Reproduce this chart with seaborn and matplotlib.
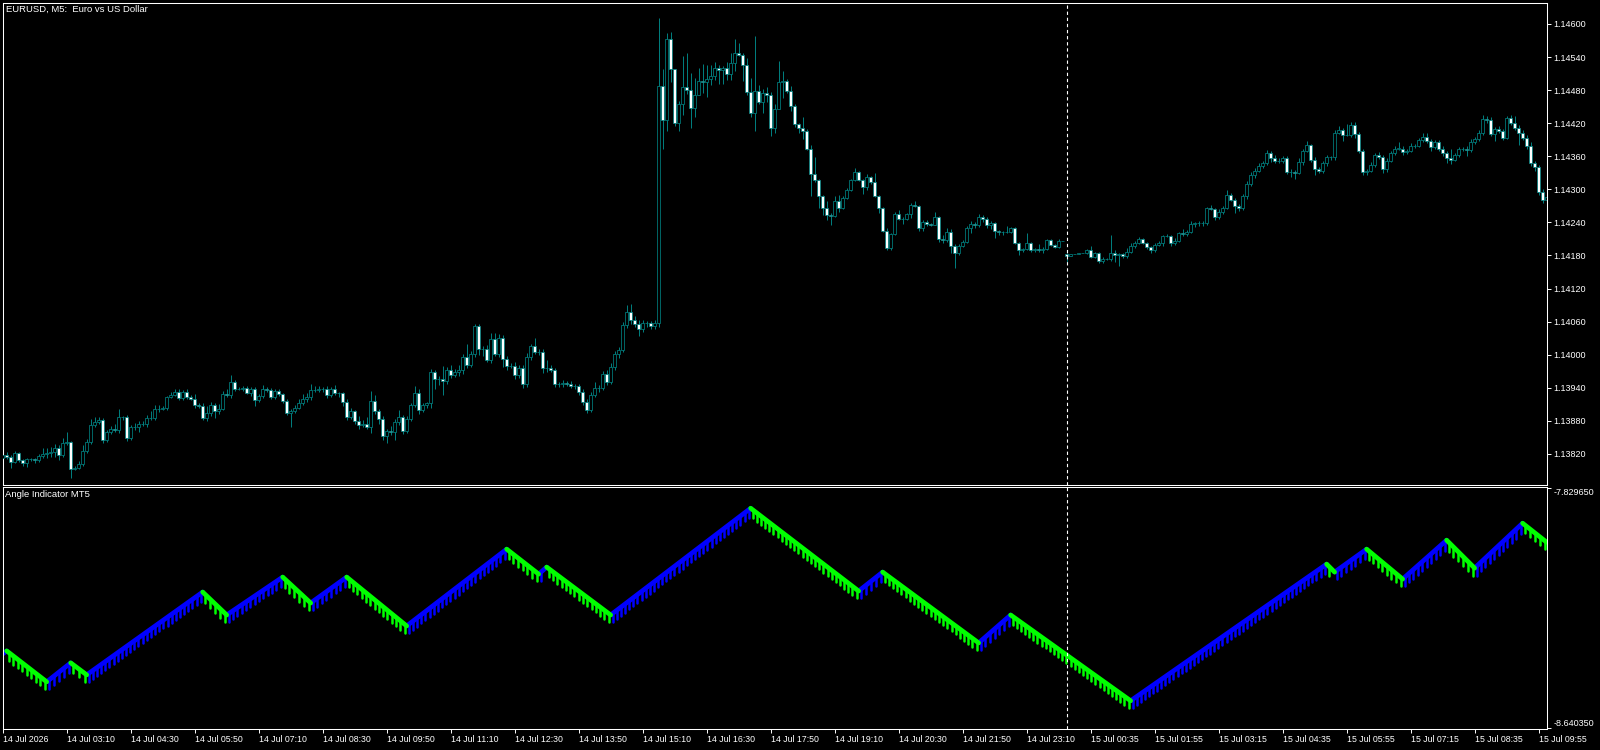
import numpy as np
import pandas as pd
import matplotlib
matplotlib.use("Agg")
import matplotlib.pyplot as plt
import matplotlib.patheffects as pe
import seaborn as sns

W, H, DPI = 1600, 750, 100

# EURUSD M5 closes, one per bar (bar 0 = 14 Jul 01:50)
first_open = 1.13812
closes = [
    1.13818, 1.13815, 1.13806, 1.13821, 1.13809, 1.13803, 1.13810, 1.13810, 1.13809, 1.13816,
    1.13819, 1.13821, 1.13824, 1.13830, 1.13818, 1.13840, 1.13842, 1.13792, 1.13795, 1.13801,
    1.13826, 1.13842, 1.13872, 1.13877, 1.13881, 1.13845, 1.13860, 1.13865, 1.13863, 1.13886,
    1.13886, 1.13849, 1.13868, 1.13868, 1.13874, 1.13874, 1.13885, 1.13885, 1.13901, 1.13901,
    1.13903, 1.13923, 1.13927, 1.13932, 1.13921, 1.13932, 1.13923, 1.13920, 1.13909, 1.13907,
    1.13885, 1.13895, 1.13908, 1.13897, 1.13901, 1.13928, 1.13927, 1.13950, 1.13937, 1.13937,
    1.13940, 1.13931, 1.13938, 1.13918, 1.13925, 1.13937, 1.13936, 1.13923, 1.13934, 1.13928,
    1.13916, 1.13894, 1.13898, 1.13904, 1.13912, 1.13919, 1.13924, 1.13936, 1.13936, 1.13937,
    1.13937, 1.13927, 1.13937, 1.13930, 1.13930, 1.13915, 1.13887, 1.13897, 1.13880, 1.13872,
    1.13875, 1.13869, 1.13916, 1.13898, 1.13883, 1.13852, 1.13862, 1.13860, 1.13877, 1.13886,
    1.13862, 1.13883, 1.13909, 1.13931, 1.13900, 1.13909, 1.13912, 1.13968, 1.13956, 1.13955,
    1.13953, 1.13973, 1.13963, 1.13968, 1.13973, 1.13995, 1.13981, 1.14002, 1.14052, 1.14010,
    1.14010, 1.13990, 1.14028, 1.14001, 1.14030, 1.13993, 1.13979, 1.13979, 1.13963, 1.13975,
    1.13947, 1.13995, 1.14016, 1.14005, 1.14005, 1.13975, 1.13975, 1.13972, 1.13947, 1.13947,
    1.13948, 1.13947, 1.13943, 1.13943, 1.13933, 1.13915, 1.13900, 1.13927, 1.13939, 1.13939,
    1.13965, 1.13951, 1.13978, 1.14002, 1.14008, 1.14054, 1.14078, 1.14062, 1.14056, 1.14046,
    1.14057, 1.14057, 1.14052, 1.14057, 1.14487, 1.14426, 1.14572, 1.14518, 1.14420, 1.14455,
    1.14485, 1.14481, 1.14447, 1.14471, 1.14497, 1.14495, 1.14500, 1.14506, 1.14521, 1.14516,
    1.14521, 1.14509, 1.14529, 1.14548, 1.14544, 1.14526, 1.14477, 1.14438, 1.14479, 1.14459,
    1.14474, 1.14471, 1.14412, 1.14445, 1.14495, 1.14497, 1.14479, 1.14451, 1.14418, 1.14412,
    1.14406, 1.14373, 1.14328, 1.14316, 1.14287, 1.14266, 1.14253, 1.14252, 1.14278, 1.14267,
    1.14284, 1.14299, 1.14317, 1.14332, 1.14317, 1.14304, 1.14323, 1.14314, 1.14288, 1.14266,
    1.14225, 1.14193, 1.14219, 1.14255, 1.14246, 1.14247, 1.14255, 1.14272, 1.14270, 1.14229,
    1.14241, 1.14237, 1.14236, 1.14249, 1.14209, 1.14208, 1.14223, 1.14197, 1.14185, 1.14197,
    1.14205, 1.14229, 1.14237, 1.14235, 1.14249, 1.14246, 1.14235, 1.14239, 1.14224, 1.14223,
    1.14223, 1.14223, 1.14229, 1.14202, 1.14189, 1.14192, 1.14202, 1.14189, 1.14192, 1.14190,
    1.14191, 1.14208, 1.14199, 1.14195, 1.14207, 1.14206, 1.14179, 1.14182, 1.14183, 1.14184,
    1.14185, 1.14189, 1.14178, 1.14185, 1.14170, 1.14174, 1.14174, 1.14185, 1.14181, 1.14182,
    1.14179, 1.14187, 1.14197, 1.14203, 1.14209, 1.14203, 1.14195, 1.14190, 1.14199, 1.14202,
    1.14215, 1.14215, 1.14202, 1.14207, 1.14220, 1.14219, 1.14223, 1.14237, 1.14238, 1.14239,
    1.14239, 1.14266, 1.14265, 1.14249, 1.14259, 1.14266, 1.14290, 1.14281, 1.14270, 1.14266,
    1.14287, 1.14310, 1.14326, 1.14334, 1.14342, 1.14348, 1.14366, 1.14356, 1.14352, 1.14352,
    1.14356, 1.14332, 1.14332, 1.14330, 1.14350, 1.14370, 1.14380, 1.14354, 1.14336, 1.14334,
    1.14347, 1.14358, 1.14358, 1.14403, 1.14408, 1.14399, 1.14399, 1.14417, 1.14400, 1.14370,
    1.14332, 1.14334, 1.14344, 1.14362, 1.14359, 1.14336, 1.14352, 1.14366, 1.14374, 1.14374,
    1.14368, 1.14370, 1.14379, 1.14379, 1.14389, 1.14395, 1.14388, 1.14376, 1.14385, 1.14374,
    1.14365, 1.14356, 1.14354, 1.14362, 1.14373, 1.14374, 1.14371, 1.14386, 1.14391, 1.14403,
    1.14427, 1.14426, 1.14400, 1.14409, 1.14406, 1.14394, 1.14429, 1.14421, 1.14412, 1.14403,
    1.14394, 1.14379, 1.14347, 1.14341, 1.14295, 1.14281, 1.14286,
]
# bars that did not open at the previous close
open_gaps = {266: 1.14182}

# wick lengths above / below the body, in points (0.00001)
wick_up = [
    5, 6, 3, 4, 2, 2, 3, 3, 2, 3,
    12, 10, 8, 8, 6, 8, 18, 2, 3, 6,
    10, 5, 12, 10, 6, 4, 4, 6, 10, 16,
    3, 4, 4, 8, 6, 5, 6, 12, 8, 8,
    4, 2, 6, 6, 6, 3, 5, 4, 8, 3,
    5, 12, 6, 4, 10, 6, 10, 13, 4, 5,
    3, 4, 3, 3, 4, 8, 4, 4, 3, 3,
    3, 3, 4, 5, 8, 10, 6, 10, 8, 6,
    5, 6, 4, 8, 3, 3, 4, 6, 3, 8,
    6, 12, 18, 10, 4, 6, 4, 8, 6, 14,
    4, 6, 4, 12, 6, 4, 3, 6, 4, 6,
    24, 4, 8, 6, 8, 6, 24, 4, 4, 4,
    6, 8, 12, 12, 8, 6, 4, 6, 8, 6,
    6, 8, 3, 14, 6, 6, 15, 6, 4, 4,
    6, 4, 6, 4, 4, 4, 4, 6, 12, 6,
    6, 8, 6, 4, 6, 6, 12, 14, 8, 6,
    6, 4, 4, 6, 124, 31, 12, 14, 0, 6,
    56, 62, 30, 31, 23, 30, 25, 20, 10, 5,
    3, 10, 18, 25, 18, 3, 12, 25, 100, 10,
    8, 12, 5, 10, 37, 18, 4, 8, 3, 3,
    20, 4, 8, 30, 3, 3, 12, 4, 9, 12,
    3, 3, 2, 6, 2, 2, 5, 2, 15, 2,
    2, 4, 2, 4, 7, 3, 2, 3, 6, 1,
    3, 4, 2, 10, 2, 8, 6, 5, 3, 4,
    3, 5, 5, 4, 6, 5, 3, 3, 2, 2,
    2, 10, 3, 2, 2, 2, 18, 2, 2, 8,
    5, 2, 2, 2, 2, 0, 2, 0, 0, 0,
    0, 2, 8, 2, 2, 3, 2, 32, 4, 2,
    3, 6, 5, 4, 4, 3, 2, 2, 3, 5,
    2, 4, 2, 4, 2, 8, 3, 5, 3, 4,
    3, 2, 5, 2, 5, 3, 9, 4, 3, 4,
    4, 5, 6, 4, 5, 4, 6, 4, 6, 4,
    5, 4, 4, 3, 6, 4, 8, 3, 4, 4,
    5, 4, 3, 5, 6, 4, 19, 5, 6, 4,
    4, 3, 5, 4, 6, 4, 5, 4, 4, 12,
    4, 3, 5, 4, 4, 8, 8, 4, 5, 4,
    4, 4, 17, 4, 4, 3, 4, 5, 4, 5,
    8, 6, 6, 4, 6, 4, 4, 6, 12, 4,
    5, 4, 6, 5, 4, 5, 6,
]
wick_dn = [
    4, 4, 12, 3, 4, 5, 6, 3, 5, 3,
    3, 6, 6, 10, 10, 4, 4, 15, 2, 3,
    3, 4, 5, 4, 3, 6, 4, 4, 3, 6,
    4, 6, 4, 4, 8, 4, 5, 3, 4, 5,
    2, 4, 2, 2, 3, 4, 4, 3, 6, 3,
    4, 5, 6, 12, 4, 2, 3, 6, 3, 2,
    3, 2, 6, 12, 3, 3, 4, 3, 3, 3,
    3, 4, 25, 3, 3, 3, 4, 6, 4, 4,
    4, 5, 3, 4, 6, 8, 6, 4, 5, 6,
    4, 4, 11, 5, 8, 6, 12, 6, 14, 4,
    6, 4, 3, 4, 8, 4, 6, 8, 18, 10,
    26, 6, 6, 4, 6, 8, 6, 4, 6, 10,
    12, 4, 6, 4, 6, 16, 6, 4, 8, 6,
    8, 6, 4, 4, 6, 8, 6, 4, 6, 6,
    6, 4, 4, 6, 6, 6, 6, 4, 4, 6,
    4, 6, 4, 6, 8, 4, 6, 6, 6, 12,
    4, 6, 6, 5, 7, 53, 20, 23, 5, 15,
    20, 8, 36, 16, 0, 20, 28, 10, 8, 25,
    25, 10, 10, 15, 3, 30, 5, 6, 33, 5,
    20, 12, 16, 10, 0, 30, 4, 8, 5, 10,
    14, 2, 40, 3, 20, 12, 8, 16, 2, 8,
    2, 2, 2, 2, 2, 12, 5, 4, 2, 9,
    2, 3, 4, 2, 1, 9, 2, 7, 2, 4,
    4, 3, 3, 1, 4, 5, 3, 12, 28, 4,
    2, 3, 8, 5, 4, 6, 6, 7, 12, 5,
    6, 2, 3, 2, 8, 2, 2, 2, 2, 4,
    5, 2, 2, 2, 2, 0, 10, 0, 0, 0,
    0, 2, 2, 3, 4, 3, 2, 4, 12, 20,
    3, 4, 2, 4, 3, 2, 3, 5, 4, 2,
    4, 2, 5, 3, 2, 3, 4, 2, 6, 4,
    6, 4, 2, 4, 2, 4, 2, 3, 13, 5,
    3, 4, 4, 5, 3, 4, 4, 6, 4, 5,
    4, 4, 9, 12, 3, 5, 3, 4, 10, 4,
    4, 5, 4, 4, 3, 11, 3, 4, 6, 4,
    6, 6, 3, 4, 4, 6, 4, 3, 4, 3,
    5, 4, 3, 4, 3, 3, 4, 6, 3, 5,
    5, 8, 8, 3, 4, 4, 11, 4, 4, 3,
    4, 5, 4, 12, 4, 5, 3, 4, 4, 23,
    4, 6, 5, 8, 6, 6, 5,
]

price_ticks = [1.13820, 1.13880, 1.13940, 1.14000, 1.14060, 1.14120, 1.14180,
               1.14240, 1.14300, 1.14360, 1.14420, 1.14480, 1.14540, 1.14600]

time_tick_bars = [0, 16, 32, 48, 64, 80, 96, 112, 128, 144, 160, 176, 192,
                  208, 224, 240, 256, 272, 288, 304, 320, 336, 352, 368, 384]
time_labels = ["14 Jul 2026", "14 Jul 03:10", "14 Jul 04:30", "14 Jul 05:50",
               "14 Jul 07:10", "14 Jul 08:30", "14 Jul 09:50", "14 Jul 11:10",
               "14 Jul 12:30", "14 Jul 13:50", "14 Jul 15:10", "14 Jul 16:30",
               "14 Jul 17:50", "14 Jul 19:10", "14 Jul 20:30", "14 Jul 21:50",
               "14 Jul 23:10", "15 Jul 00:35", "15 Jul 01:55", "15 Jul 03:15",
               "15 Jul 04:35", "15 Jul 05:55", "15 Jul 07:15", "15 Jul 08:35",
               "15 Jul 09:55"]
day_sep_bar = 266

# Angle Indicator MT5: turning points of the zigzag (bar, value)
angle_bars = [0, 1, 11, 17, 21, 50, 56, 70, 77, 86,
              101, 126, 134, 136, 152, 187, 214, 220, 244, 252,
              282, 331, 333, 341, 350, 361, 368, 380, 386]
angle_vals = [-8.3904, -8.3803, -8.4850, -8.4208, -8.4614, -8.1810, -8.2587, -8.1303, -8.2181, -8.1303,
              -8.2958, -8.0357, -8.1202, -8.0965, -8.2587, -7.8972, -8.1776, -8.1134, -8.3532, -8.2587,
              -8.5492, -8.0864, -8.1134, -8.0357, -8.1371, -8.0053, -8.0999, -7.9479, -8.0121]
angle_scale = [-8.640350, -7.829650]

TEAL = "#008080"
FG = "white"

sns.set_theme(style="dark", rc={"axes.facecolor": "black", "figure.facecolor": "black",
                                "axes.edgecolor": FG, "axes.linewidth": 0.75})
plt.rcParams["font.family"] = ["Liberation Sans", "DejaVu Sans"]


def px_box(x0, y0, x1, y1):
    return [x0 / W, 1 - y1 / H, (x1 - x0) / W, (y1 - y0) / H]


fig = plt.figure(figsize=(W / DPI, H / DPI), dpi=DPI, facecolor="black")
ax = fig.add_axes(px_box(2.7, 2.7, 1547, 485))
ax2 = fig.add_axes(px_box(2.7, 487.3, 1547, 729))

# ---- candles ----
c = np.array(closes)
o = np.r_[first_open, c[:-1]]  # M5 bars open where the previous one closed
for b, p in open_gaps.items():
    o[b] = p
top = np.maximum(o, c)
bot = np.minimum(o, c)
hi = top + np.array(wick_up) * 1e-5
lo = bot - np.array(wick_dn) * 1e-5
bars = np.arange(len(c))
fill = np.where(c < o, "white", "black")

ax.vlines(bars, lo, hi, color=TEAL, lw=0.7, zorder=2)
ax.bar(bars, np.maximum(top - bot, 2e-6), bottom=bot, width=0.62, color=fill,
       edgecolor=TEAL, linewidth=0.55, zorder=3)

ax.set_xlim(0, 386.1)
ax.set_ylim(1.137635, 1.146386)
ax.yaxis.tick_right()
ax.set_yticks(price_ticks)
ax.set_yticklabels(["%.5f" % p for p in price_ticks])
ax.tick_params(axis="y", right=True, left=False, labelright=True, labelleft=False,
               direction="out", length=3, width=0.7, colors=FG, labelsize=6.5, pad=1.5)
ax.tick_params(axis="x", bottom=False, labelbottom=False)
ax.set_xlabel("")
ax.set_ylabel("")

# ---- indicator ----
rows = []
for k in range(len(angle_bars) - 1):
    d = "up" if angle_vals[k + 1] > angle_vals[k] else "down"
    rows.append((k, angle_bars[k], angle_vals[k], d))
    rows.append((k, angle_bars[k + 1], angle_vals[k + 1], d))
seg = pd.DataFrame(rows, columns=["seg", "bar", "angle", "dir"])
sns.lineplot(data=seg, x="bar", y="angle", hue="dir", units="seg", estimator=None,
             palette={"up": "#0000ff", "down": "#00ff00"}, linewidth=3.4, legend=False,
             sort=False, ax=ax2)

ax2.set_xlim(0, 386.1)
ax2.set_ylim(-8.64475, -7.82626)

# teeth hanging under every bar of the zigzag
for line in ax2.lines:
    data = line.get_xydata()
    xy = ax2.transData.transform(data)
    dx, dy = xy[-1] - xy[0]
    nbar = max(data[-1, 0] - data[0, 0], 1)
    theta = np.degrees(np.arctan2(dy, dx))
    spacing = np.hypot(dx, dy) / nbar * 72 / DPI
    line.set_solid_capstyle("round")
    line.set_path_effects([pe.withTickedStroke(angle=-90 - theta, spacing=spacing,
                                               length=1.7, linewidth=1.8)])

ax2.yaxis.tick_right()
ax2.set_yticks(angle_scale)
ax2.set_yticklabels(["%.6f" % v for v in angle_scale])
ax2.tick_params(axis="y", right=True, left=False, labelright=True, labelleft=False,
                direction="out", length=3, width=0.7, colors=FG, labelsize=6.5, pad=1.5)
ylabs = ax2.get_yticklabels()
ylabs[0].set_va("bottom")
ylabs[1].set_va("top")

ax2.set_xticks(time_tick_bars)
ax2.set_xticklabels(time_labels)
ax2.tick_params(axis="x", bottom=True, direction="out", length=3, width=0.7,
                colors=FG, labelsize=6.3, pad=1.5)
for t in ax2.get_xticklabels():
    t.set_ha("left")
ax2.set_xlabel("")
ax2.set_ylabel("")

for a in (ax, ax2):
    a.axvline(day_sep_bar, color=FG, lw=0.8, ls=(0, (3, 2.5)), zorder=10)
    for s in a.spines.values():
        s.set_color(FG)
        s.set_linewidth(0.75)

fig.text(6 / W, 1 - 4.5 / H, "EURUSD, M5:  Euro vs US Dollar", color=FG,
         fontsize=6.8, ha="left", va="top")
fig.text(5 / W, 1 - 490 / H, "Angle Indicator MT5", color=FG,
         fontsize=6.8, ha="left", va="top")

fig.savefig("out.png", dpi=DPI, facecolor="black")
